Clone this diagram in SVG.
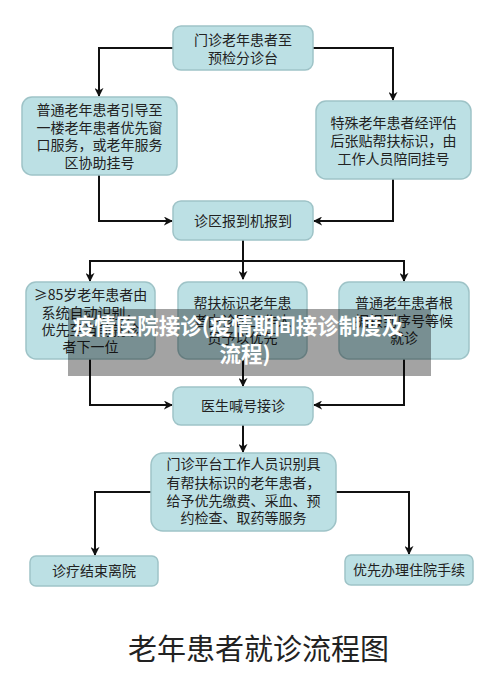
<svg xmlns="http://www.w3.org/2000/svg" width="500" height="686" viewBox="0 0 500 686">
<style>
.box{fill:#bce0e4;stroke:#9ec3c7;stroke-width:1.5}
.t{font-family:"Noto Sans CJK SC","Liberation Sans",sans-serif;font-size:14px;fill:#222;text-anchor:middle}
.c{fill:none;stroke:#111;stroke-width:2}
.ov{font-family:"Noto Sans CJK SC","Liberation Sans",sans-serif;font-size:21.5px;font-weight:bold;fill:#fff;text-anchor:middle}
.title{font-family:"Noto Sans CJK SC","Liberation Sans",sans-serif;font-size:29px;fill:#222;text-anchor:middle}
</style>
<defs>
<marker id="ah" viewBox="0 0 10 10" refX="9" refY="5" markerWidth="9" markerHeight="9" markerUnits="userSpaceOnUse" orient="auto">
<path d="M0,0 L10,5 L0,10 L3,5 Z" fill="#111"/>
</marker>
</defs>
<rect width="500" height="686" fill="#fff"/>
<g id="connectors">
<path class="c" d="M173,48 H99 V96" marker-end="url(#ah)"/>
<path class="c" d="M313,48 H393 V100" marker-end="url(#ah)"/>
<path class="c" d="M99,175 V221 H172" marker-end="url(#ah)"/>
<path class="c" d="M393,179 V221 H314" marker-end="url(#ah)"/>
<path class="c" d="M243,240 V279" marker-end="url(#ah)"/>
<path class="c" d="M243,261 H90 V281" marker-end="url(#ah)"/>
<path class="c" d="M243,261 H404 V281" marker-end="url(#ah)"/>
<path class="c" d="M90,359 V405 H172" marker-end="url(#ah)"/>
<path class="c" d="M243,359 V386" marker-end="url(#ah)"/>
<path class="c" d="M404,359 V405 H314" marker-end="url(#ah)"/>
<path class="c" d="M243,425 V452" marker-end="url(#ah)"/>
<path class="c" d="M151,492 H95 V555" marker-end="url(#ah)"/>
<path class="c" d="M336,492 H409 V554" marker-end="url(#ah)"/>
</g>
<g id="n1">
<rect class="box" x="173" y="26" width="140" height="44" rx="8"/>
<text class="t" x="243" y="45">门诊老年患者至</text>
<text class="t" x="243" y="63">预检分诊台</text>
</g>
<g id="n2">
<rect class="box" x="22" y="97" width="155" height="78" rx="10"/>
<text class="t" x="99.5" y="115">普通老年患者引导至</text>
<text class="t" x="99.5" y="132.5">一楼老年患者优先窗</text>
<text class="t" x="99.5" y="150">口服务，或老年服务</text>
<text class="t" x="99.5" y="168">区协助挂号</text>
</g>
<g id="n3">
<rect class="box" x="316" y="101" width="155" height="78" rx="10"/>
<text class="t" x="393.5" y="128">特殊老年患者经评估</text>
<text class="t" x="393.5" y="146">后张贴帮扶标识，由</text>
<text class="t" x="393.5" y="164">工作人员陪同挂号</text>
</g>
<g id="n4">
<rect class="box" x="173" y="201" width="140" height="39" rx="8"/>
<text class="t" x="243" y="226">诊区报到机报到</text>
</g>
<g id="n5">
<rect class="box" x="26" y="282" width="129" height="77" rx="10"/>
<text class="t" x="90.5" y="300">≥85岁老年患者由</text>
<text class="t" x="90.5" y="317.5">系统自动识别，</text>
<text class="t" x="90.5" y="335">优先至当前就诊</text>
<text class="t" x="90.5" y="352">者下一位</text>
</g>
<g id="n6">
<rect class="box" x="178" y="282" width="129" height="77" rx="10"/>
<text class="t" x="242.5" y="308">帮扶标识老年患</text>
<text class="t" x="242.5" y="325.5">者由诊区工作人</text>
<text class="t" x="242.5" y="343">员予以优先</text>
</g>
<g id="n7">
<rect class="box" x="339" y="282" width="130" height="77" rx="10"/>
<text class="t" x="404" y="308">普通老年患者根</text>
<text class="t" x="404" y="325.5">据报到序号等候</text>
<text class="t" x="404" y="343">就诊</text>
</g>
<g id="n8">
<rect class="box" x="173" y="387" width="140" height="38" rx="8"/>
<text class="t" x="243" y="411">医生喊号接诊</text>
</g>
<g id="n9">
<rect class="box" x="151" y="453" width="185" height="78" rx="12"/>
<text class="t" x="243.5" y="469">门诊平台工作人员识别具</text>
<text class="t" x="243.5" y="487.5">有帮扶标识的老年患者，</text>
<text class="t" x="243.5" y="505.5">给予优先缴费、采血、预</text>
<text class="t" x="243.5" y="523">约检查、取药等服务</text>
</g>
<g id="n10">
<rect class="box" x="30" y="556" width="128" height="30" rx="6"/>
<text class="t" x="94" y="576">诊疗结束离院</text>
</g>
<g id="n11">
<rect class="box" x="345" y="555" width="128" height="30" rx="6"/>
<text class="t" x="409" y="575">优先办理住院手续</text>
</g>
<g id="overlay">
<rect x="68" y="309" width="363" height="67" fill="#000" fill-opacity="0.36"/>
<text class="ov" x="238" y="334">疫情医院接诊(疫情期间接诊制度及</text>
<text class="ov" x="245" y="362">流程)</text>
</g>
<text class="title" x="258.5" y="660">老年患者就诊流程图</text>
</svg>
